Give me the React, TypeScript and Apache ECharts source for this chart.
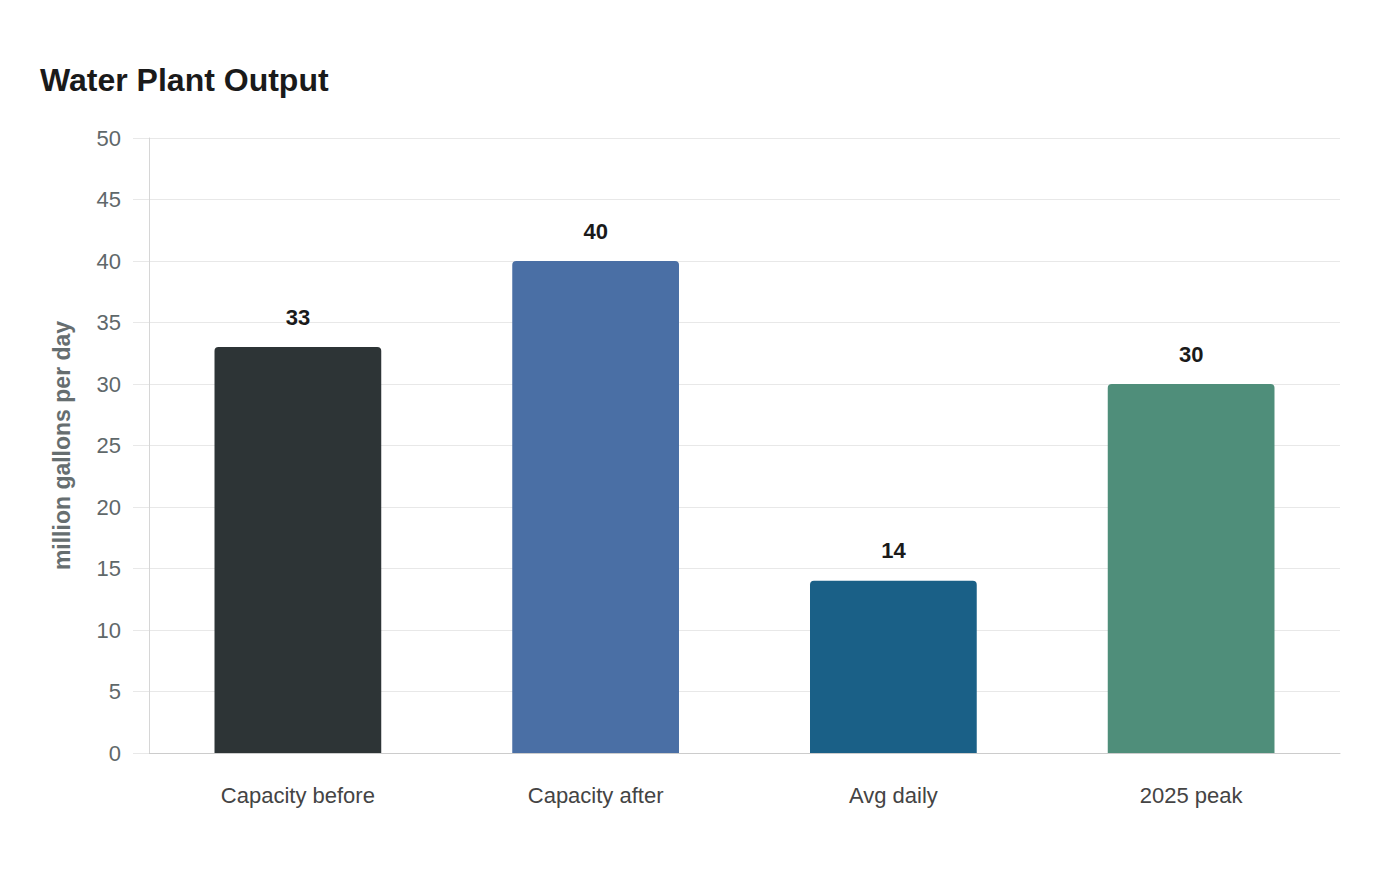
import React, { useEffect, useRef } from "react";
import * as echarts from "echarts";

const categories = ["Capacity before", "Capacity after", "Avg daily", "2025 peak"];
const values = [33, 40, 14, 30];
const barColors = ["#2d3436", "#4a6fa5", "#1a6087", "#4f8e7a"];
const yTicks = { min: 0, max: 50, interval: 5 };

export default function App() {
  const ref = useRef<HTMLDivElement>(null);
  useEffect(() => {
    if (!ref.current) return;
    const chart = echarts.init(ref.current, null, { renderer: "svg" });
    chart.setOption({
      animation: false,
      backgroundColor: "#ffffff",
      textStyle: { fontFamily: "Liberation Sans, Arial, sans-serif" },
      title: {
        text: "Water Plant Output",
        left: 27,
        top: 51,
        textStyle: { fontSize: 32, fontWeight: "bold", color: "#1a1a1a" },
      },
      grid: { left: 141, right: 52, top: 130, bottom: 119 },
      xAxis: {
        type: "category",
        data: categories,
        axisLine: { lineStyle: { color: "#cccccc", width: 1 } },
        axisTick: { show: false },
        axisLabel: { fontSize: 22, color: "#444444", margin: 31 },
      },
      yAxis: {
        type: "value",
        min: yTicks.min,
        max: yTicks.max,
        interval: yTicks.interval,
        name: "million gallons per day",
        nameLocation: "middle",
        nameGap: 76,
        nameTextStyle: { fontSize: 23, fontWeight: "bold", color: "#666e70" },
        axisLine: { show: true, lineStyle: { color: "#d6d6d6", width: 1 } },
        axisTick: { show: true, length: 16, lineStyle: { color: "#e8e8e8" } },
        axisLabel: { fontSize: 22, color: "#5f686a", margin: 28 },
        splitLine: { lineStyle: { color: "#e8e8e8", width: 1 } },
      },
      series: [
        {
          type: "bar",
          data: values.map((v, i) => ({ value: v, itemStyle: { color: barColors[i] } })),
          barWidth: "56%",
          itemStyle: { borderRadius: [4, 4, 0, 0] },
          label: {
            show: true,
            position: "top",
            distance: 19,
            fontSize: 22,
            fontWeight: "bold",
            color: "#1a1a1a",
          },
        },
      ],
    });
    return () => chart.dispose();
  }, []);
  return <div ref={ref} style={{ width: 1384, height: 864 }} />;
}
